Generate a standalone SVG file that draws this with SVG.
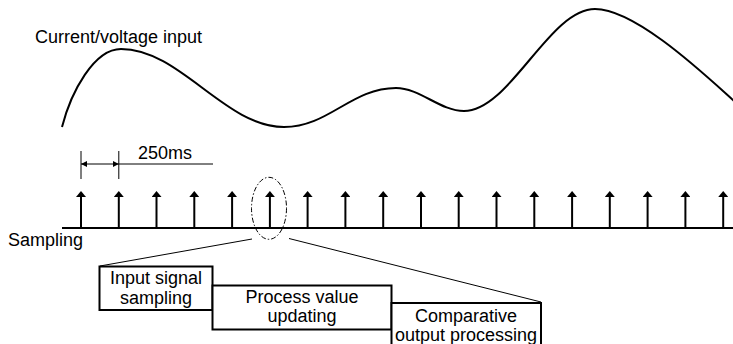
<svg xmlns="http://www.w3.org/2000/svg" width="733" height="344" viewBox="0 0 733 344">
  <defs>
    <style>
      text { font-family: "Liberation Sans", Arial, sans-serif; font-size: 18px; fill: #000; }
      .mid { text-anchor: middle; }
      .thick { stroke: #000; stroke-width: 2; fill: none; }
      .thin { stroke: #000; stroke-width: 1; fill: none; }
      .box { stroke: #000; stroke-width: 2; fill: #fff; }
    </style>
    <marker id="tick" viewBox="0 0 6 10" refX="0" refY="5" markerWidth="6" markerHeight="10" markerUnits="userSpaceOnUse" orient="auto">
      <path d="M0,0 L6,5 L0,10 z" fill="#000"/>
    </marker>
    <marker id="dim" viewBox="0 0 10 10" refX="10" refY="5" markerWidth="6" markerHeight="6" markerUnits="userSpaceOnUse" orient="auto-start-reverse">
      <path d="M0,0 L10,5 L0,10 z" fill="#000"/>
    </marker>
  </defs>

  <g id="signal">
    <text x="35" y="42.5">Current/voltage input</text>
    <path class="thick" d="M62,127 C71,92 94,49 121,49 C180,49 225,127 284,127 C329,127 351,88 396,88 C420,88 440,111 464,111 C510,111 549,9 595,9 C635,9 703,73 733,100 L738,105"/>
  </g>

  <g id="interval">
    <line class="thin" x1="81" y1="151" x2="81" y2="179"/>
    <line class="thin" x1="118.8" y1="151" x2="118.8" y2="179"/>
    <line class="thin" x1="118.8" y1="164" x2="213" y2="164"/>
    <line class="thin" x1="81" y1="164" x2="118.8" y2="164" marker-start="url(#dim)" marker-end="url(#dim)"/>
    <text x="138" y="158.5">250ms</text>
  </g>

  <g id="sampling">
    <text x="8" y="246">Sampling</text>
    <line class="thick" x1="62" y1="228" x2="733" y2="228"/>
    <g class="thick" marker-end="url(#tick)">
      <line x1="81" y1="228" x2="81" y2="197"/>
      <line x1="118.8" y1="228" x2="118.8" y2="197"/>
      <line x1="156.5" y1="228" x2="156.5" y2="197"/>
      <line x1="194.3" y1="228" x2="194.3" y2="197"/>
      <line x1="232.1" y1="228" x2="232.1" y2="197"/>
      <line x1="269.9" y1="228" x2="269.9" y2="197"/>
      <line x1="307.6" y1="228" x2="307.6" y2="197"/>
      <line x1="345.4" y1="228" x2="345.4" y2="197"/>
      <line x1="383.2" y1="228" x2="383.2" y2="197"/>
      <line x1="421" y1="228" x2="421" y2="197"/>
      <line x1="458.7" y1="228" x2="458.7" y2="197"/>
      <line x1="496.5" y1="228" x2="496.5" y2="197"/>
      <line x1="534.3" y1="228" x2="534.3" y2="197"/>
      <line x1="572.1" y1="228" x2="572.1" y2="197"/>
      <line x1="609.8" y1="228" x2="609.8" y2="197"/>
      <line x1="647.6" y1="228" x2="647.6" y2="197"/>
      <line x1="685.4" y1="228" x2="685.4" y2="197"/>
      <line x1="723.2" y1="228" x2="723.2" y2="197"/>
    </g>
    <ellipse cx="269" cy="208.3" rx="17.5" ry="31" class="thin" stroke-dasharray="5,2,1.5,2"/>
  </g>

  <g id="connectors">
    <line class="thin" x1="252" y1="239" x2="100" y2="266"/>
    <line class="thin" x1="289" y1="238.5" x2="541" y2="302"/>
  </g>

  <g id="box-input">
    <rect class="box" x="99.5" y="266.5" width="113" height="43.5"/>
    <text class="mid" x="156" y="284">Input signal</text>
    <text class="mid" x="156" y="303.5">sampling</text>
  </g>
  <g id="box-process">
    <rect class="box" x="212.5" y="285.5" width="179" height="44"/>
    <text class="mid" x="302" y="303">Process value</text>
    <text class="mid" x="302" y="322">updating</text>
  </g>
  <g id="box-output">
    <rect class="box" x="391.5" y="303" width="149.5" height="50"/>
    <text class="mid" x="466" y="322">Comparative</text>
    <text class="mid" x="466" y="341">output processing</text>
  </g>
</svg>
